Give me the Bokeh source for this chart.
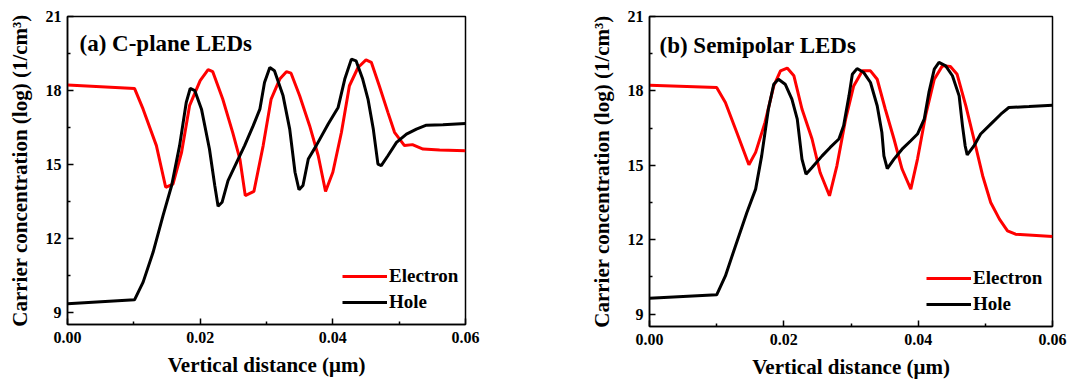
from bokeh.plotting import figure
from bokeh.layouts import row
from bokeh.models import Range1d, FixedTicker, Label, Legend, LegendItem
from bokeh.embed import file_html
from bokeh.resources import INLINE

# ---------------- data ----------------
a_e_x = [0.0, 0.0101, 0.0114, 0.0134, 0.0148, 0.0159, 0.0172, 0.0184, 0.0200, 0.0212, 0.0219,
         0.0234, 0.0249, 0.0260, 0.0268, 0.0281, 0.0295, 0.0307, 0.0320, 0.0330, 0.0337, 0.0350,
         0.0365, 0.0378, 0.0389, 0.0400, 0.0413, 0.0425, 0.0438, 0.0450, 0.0458, 0.0470, 0.0483,
         0.0493, 0.0508, 0.0520, 0.0536, 0.0561, 0.0600]
a_e_y = [18.22, 18.08, 17.24, 15.76, 14.07, 14.20, 15.49, 17.38, 18.40, 18.84, 18.76,
         17.65, 16.30, 15.20, 13.73, 13.90, 15.76, 17.65, 18.46, 18.76, 18.70, 17.78,
         16.57, 15.35, 13.90, 14.68, 16.30, 18.19, 18.93, 19.24, 19.14, 18.19, 17.11,
         16.30, 15.76, 15.80, 15.62, 15.58, 15.55]

a_h_x = [0.0, 0.0101, 0.0114, 0.0129, 0.0144, 0.0157, 0.0169, 0.0179, 0.0185, 0.0192, 0.0202,
         0.0214, 0.0222, 0.0227, 0.0233, 0.0242, 0.0255, 0.0267, 0.0280, 0.0290, 0.0297, 0.0305,
         0.0312, 0.0325, 0.0335, 0.0343, 0.0349, 0.0355, 0.0363, 0.0375, 0.0393, 0.0408, 0.0418,
         0.0428, 0.0435, 0.0445, 0.0453, 0.0461, 0.0468, 0.0473, 0.0483, 0.0496, 0.0511, 0.0526,
         0.0541, 0.0566, 0.0600]
a_h_y = [9.34, 9.50, 10.22, 11.43, 12.92, 14.14, 15.76, 17.51, 18.08, 17.99, 17.24,
         15.62, 14.14, 13.30, 13.46, 14.34, 15.08, 15.76, 16.57, 17.24, 18.32, 18.93,
         18.80, 17.78, 16.43, 14.68, 13.97, 14.14, 15.22, 15.76, 16.64, 17.31, 18.46,
         19.27, 19.20, 18.46, 17.65, 16.43, 15.01, 14.95, 15.35, 15.89, 16.23, 16.43,
         16.59, 16.61, 16.66]

b_e_x = [0.0, 0.0100, 0.0113, 0.0130, 0.0148, 0.0158, 0.0172, 0.0185, 0.0195, 0.0205, 0.0215,
         0.0227, 0.0242, 0.0254, 0.0268, 0.0279, 0.0292, 0.0304, 0.0317, 0.0329, 0.0339, 0.0351,
         0.0364, 0.0376, 0.0389, 0.0399, 0.0411, 0.0424, 0.0436, 0.0448, 0.0458, 0.0471, 0.0483,
         0.0496, 0.0508, 0.0521, 0.0533, 0.0545, 0.0570, 0.0600]
b_e_y = [18.23, 18.14, 17.53, 16.32, 15.02, 15.52, 16.73, 18.20, 18.81, 18.92, 18.61,
         17.27, 16.06, 14.71, 13.77, 14.98, 16.86, 18.20, 18.81, 18.81, 18.47, 17.27,
         16.06, 14.85, 14.04, 15.25, 17.00, 18.47, 19.01, 18.98, 18.67, 17.40, 16.06,
         14.58, 13.50, 12.83, 12.36, 12.22, 12.18, 12.13]

b_h_x = [0.0, 0.0100, 0.0113, 0.0128, 0.0145, 0.0158, 0.0167, 0.0177, 0.0185, 0.0192, 0.0202,
         0.0212, 0.0220, 0.0227, 0.0233, 0.0242, 0.0257, 0.0269, 0.0282, 0.0289, 0.0297, 0.0302,
         0.0309, 0.0319, 0.0329, 0.0339, 0.0346, 0.0349, 0.0354, 0.0364, 0.0376, 0.0389, 0.0399,
         0.0409, 0.0416, 0.0424, 0.0431, 0.0441, 0.0451, 0.0461, 0.0466, 0.0470, 0.0473, 0.0483,
         0.0493, 0.0508, 0.0523, 0.0535, 0.0565, 0.0600]
b_h_y = [9.64, 9.78, 10.54, 11.75, 13.10, 14.04, 15.38, 17.27, 18.27, 18.47, 18.27,
         17.67, 16.86, 15.25, 14.64, 14.91, 15.38, 15.72, 16.06, 16.59, 17.80, 18.67,
         18.90, 18.74, 18.34, 17.40, 16.32, 15.38, 14.87, 15.25, 15.65, 15.99, 16.26,
         16.86, 17.94, 18.88, 19.15, 19.01, 18.61, 17.80, 16.59, 15.78, 15.42, 15.78,
         16.26, 16.66, 17.06, 17.33, 17.37, 17.42]

x_ticks = [0.0, 0.02, 0.04, 0.06]
x_tick_labels = ["0.00", "0.02", "0.04", "0.06"]
x_minor = [0.01, 0.03, 0.05]
y_ticks = [9, 12, 15, 18, 21]
y_tick_labels = ["9", "12", "15", "18", "21"]
y_minor = [10.5, 13.5, 16.5, 19.5]
titles = ["(a) C-plane LEDs", "(b) Semipolar LEDs"]
series_names = ["Electron", "Hole"]

FONT = "'Liberation Serif', serif"
RED = "#ff0000"
BLACK = "#000000"


def make_panel(title, ex, ey, hx, hy, left, fw, fh, right, top, bottom, title_y, title_x, leg_x):
    p = figure(width=left + fw + right, height=top + fh + bottom,
               frame_width=fw, frame_height=fh,
               min_border_left=left, min_border_right=right,
               min_border_top=top, min_border_bottom=bottom,
               x_range=Range1d(0, 0.06), y_range=Range1d(8.5, 21),
               output_backend="svg", toolbar_location=None)
    p.grid.visible = False
    p.outline_line_color = BLACK
    p.outline_line_width = 1.5
    p.background_fill_color = "white"
    p.border_fill_color = "white"

    p.xaxis.ticker = FixedTicker(ticks=x_ticks, minor_ticks=x_minor)
    p.yaxis.ticker = FixedTicker(ticks=y_ticks, minor_ticks=y_minor)
    p.xaxis.major_label_overrides = {t: l for t, l in zip(x_ticks, x_tick_labels)}
    p.yaxis.major_label_overrides = {t: l for t, l in zip(y_ticks, y_tick_labels)}
    for ax in (p.xaxis, p.yaxis):
        ax.axis_line_color = BLACK
        ax.axis_line_width = 1.5
        ax.major_tick_in = 6
        ax.major_tick_out = 0
        ax.minor_tick_in = 3
        ax.minor_tick_out = 0
        ax.major_tick_line_width = 1.5
        ax.minor_tick_line_width = 1.5
        ax.major_label_text_font = FONT
        ax.major_label_text_font_style = "bold"
        ax.major_label_text_font_size = "16px"
        ax.major_label_text_color = BLACK
        ax.axis_label_text_font = FONT
        ax.axis_label_text_font_style = "bold"
        ax.axis_label_text_font_size = "21px"
        ax.axis_label_text_color = BLACK
    p.xaxis.axis_label = "Vertical distance (\u03bcm)"
    p.yaxis.axis_label = "Carrier concentration (log) (1/cm\u00b3)"
    p.xaxis.major_label_standoff = 7
    p.xaxis.axis_label_standoff = 7
    p.yaxis.major_label_standoff = 6
    p.yaxis.axis_label_standoff = 11

    r1 = p.line(ex, ey, line_color=RED, line_width=3)
    r2 = p.line(hx, hy, line_color=BLACK, line_width=3)

    legend = Legend(items=[LegendItem(label=series_names[0], renderers=[r1]),
                           LegendItem(label=series_names[1], renderers=[r2])],
                    location=(leg_x, 11))
    legend.border_line_color = None
    legend.background_fill_alpha = 0
    legend.padding = 0
    legend.margin = 0
    legend.spacing = 4
    legend.glyph_width = 45
    legend.glyph_height = 20
    legend.label_height = 20
    legend.label_standoff = 2
    legend.label_text_font = FONT
    legend.label_text_font_style = "bold"
    legend.label_text_font_size = "19px"
    legend.label_text_color = BLACK
    p.add_layout(legend, "center")

    lab = Label(x=title_x, y=title_y, x_units="screen", y_units="screen", text=title,
                text_font=FONT, text_font_style="bold", text_font_size="23px",
                text_baseline="alphabetic", text_color=BLACK)
    p.add_layout(lab)
    return p


p1 = make_panel(titles[0], a_e_x, a_e_y, a_h_x, a_h_y,
                left=67, fw=398, fh=308, right=80, top=16, bottom=53,
                title_y=281, title_x=12, leg_x=275)
p2 = make_panel(titles[1], b_e_x, b_e_y, b_h_x, b_h_y,
                left=104, fw=403, fh=310, right=31, top=16, bottom=51,
                title_y=281, title_x=10, leg_x=277)

layout = row(p1, p2, spacing=0)
open("out.html", "w").write(file_html(layout, INLINE))
